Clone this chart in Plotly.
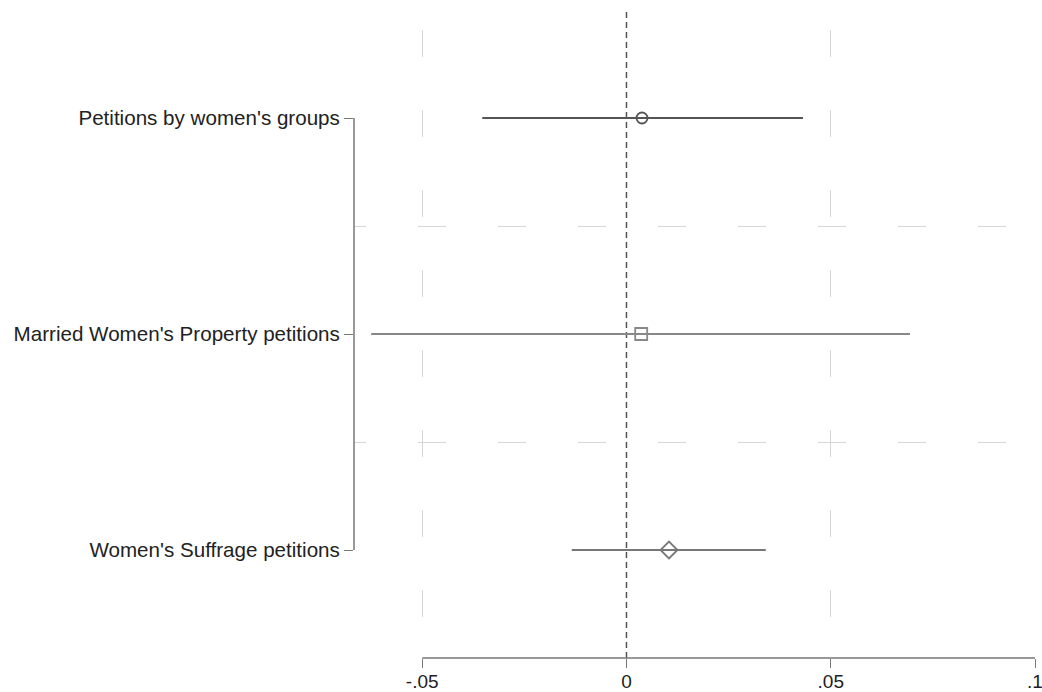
import plotly.graph_objects as go

labels = ["Petitions by women's groups",
          "Married Women's Property petitions",
          "Women's Suffrage petitions"]
positions = [1, 2, 3]
estimates = [0.0038, 0.0036, 0.0104]
ci_low = [-0.0353, -0.0625, -0.0134]
ci_high = [0.0432, 0.0694, 0.0341]
symbols = ["circle-open", "square-open", "diamond-open"]
sizes = [11, 12, 13]
colors = ["#555555", "#888888", "#777777"]
widths = [2.2, 1.8, 1.8]

x_ticks = [-0.05, 0, 0.05, 0.1]
x_ticktext = ["-.05", "0", ".05", ".1"]

fig = go.Figure()
for i in range(len(labels)):
    fig.add_trace(go.Scatter(
        x=[estimates[i]], y=[positions[i]], mode="markers",
        marker=dict(symbol=symbols[i], size=sizes[i], color=colors[i],
                    line=dict(width=1.8, color=colors[i])),
        error_x=dict(type="data", symmetric=False,
                     array=[ci_high[i] - estimates[i]],
                     arrayminus=[estimates[i] - ci_low[i]],
                     width=0, thickness=widths[i], color=colors[i]),
        showlegend=False, hoverinfo="skip"))

font = "Liberation Sans, Arial, sans-serif"
fig.update_layout(
    width=1042, height=692,
    margin=dict(l=354, r=7, t=10, b=34),
    plot_bgcolor="white", paper_bgcolor="white",
    font=dict(family=font, color="#222222"),
    xaxis=dict(range=[-0.0667, 0.1], tickvals=x_ticks, ticktext=x_ticktext,
               automargin=False, ticklabeloverflow="allow", ticklabelstandoff=-3,
               ticks="outside", ticklen=9, tickcolor="#777777", tickwidth=1,
               tickfont=dict(size=19, color="#222222"),
               showgrid=False, zeroline=False, showline=False,
               minor=dict(tickmode="array", tickvals=[-0.05, 0.05], ticklen=0,
                          showgrid=True, gridcolor="#d6d6d6", gridwidth=1,
                          griddash="0px,20px,27px,33px")),
    yaxis=dict(range=[3.5, 0.5], tickvals=positions, ticktext=labels,
               automargin=False,
               ticks="outside", ticklen=9, tickcolor="#777777", tickwidth=1,
               tickfont=dict(size=20.6, color="#222222"),
               showgrid=False, zeroline=False, showline=False,
               minor=dict(tickmode="array", tickvals=[1.5, 2.5], ticklen=0,
                          showgrid=True, gridcolor="#d6d6d6", gridwidth=1,
                          griddash="12px,52px,16px,0px")),
)

# axis lines spanning only the tick range (Stata style)
fig.add_shape(type="line", xref="paper", yref="y", x0=0, x1=0,
              y0=positions[0], y1=positions[-1],
              line=dict(color="#777777", width=1.5))
fig.add_shape(type="line", xref="x", yref="paper", x0=x_ticks[0], x1=x_ticks[-1],
              y0=0, y1=0, line=dict(color="#777777", width=1.5))
# reference line at zero
fig.add_shape(type="line", xref="x", yref="paper", x0=0, x1=0, y0=0, y1=1,
              line=dict(color="#555555", width=1.5, dash="6px,4px"), layer="below")

fig.write_html("out.html",
               config={"displayModeBar": False},
               post_script="document.body.style.margin='0';document.body.style.overflow='hidden';")
